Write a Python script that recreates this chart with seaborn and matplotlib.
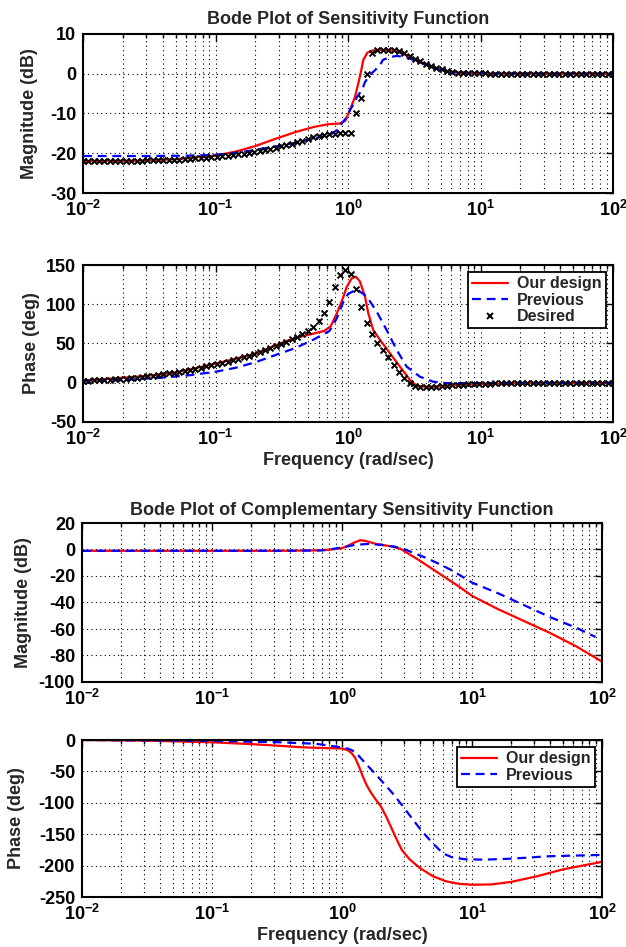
import numpy as np
import matplotlib
matplotlib.use("Agg")
import matplotlib.pyplot as plt
import seaborn as sns
from matplotlib.lines import Line2D
from matplotlib.ticker import LogLocator, NullFormatter, FixedLocator

# ---------------- data ----------------
# Sensitivity magnitude (dB) - "Our design"
s_mag_our_logf = [-2.0, -1.6, -1.3, -1.0, -0.85, -0.7, -0.55, -0.4, -0.26, -0.15, -0.06, -0.02,
                  0.015, 0.053, 0.09, 0.116, 0.146, 0.18, 0.22, 0.3, 0.36, 0.42, 0.5, 0.58,
                  0.66, 0.75, 0.85, 1.0, 2.0]
s_mag_our = [-22.0, -21.9, -21.5, -20.6, -19.6, -18.2, -16.4, -14.7, -13.4, -12.7, -12.5, -11.8,
             -9.1, -5.8, -0.7, 3.5, 5.3, 5.8, 6.0, 6.0, 5.7, 5.0, 3.6, 2.3,
             1.3, 0.6, 0.25, 0.05, 0.0]

# Sensitivity magnitude (dB) - "Previous"
s_mag_prev_logf = [-2.0, -1.5, -1.2, -1.0, -0.8, -0.6, -0.4, -0.25, -0.136, -0.075, -0.045, -0.008,
                   0.015, 0.053, 0.068, 0.106, 0.128, 0.166, 0.204, 0.242, 0.264, 0.317, 0.37,
                   0.45, 0.54, 0.67, 0.8, 0.98, 1.2, 2.0]
s_mag_prev = [-20.7, -20.7, -20.6, -20.4, -19.7, -18.6, -17.4, -16.2, -15.4, -14.0, -12.4, -10.9,
              -9.1, -7.1, -5.8, -4.1, -2.1, -0.3, 0.9, 2.2, 3.5, 4.2, 4.5,
              4.0, 3.0, 1.2, 0.4, 0.15, 0.05, 0.0]

# Sensitivity phase (deg) - "Our design"
s_ph_our_logf = [-2.0, -1.5, -1.3, -1.0, -0.7, -0.55, -0.45, -0.4, -0.3, -0.18, -0.13, -0.083,
                 -0.038, -0.01, 0.028, 0.06, 0.09, 0.128, 0.153, 0.191, 0.242, 0.317, 0.392,
                 0.468, 0.518, 0.6, 0.7, 0.85, 1.0, 1.3, 2.0]
s_ph_our = [2.5, 9.0, 13.0, 24.3, 37.0, 47.5, 54.0, 57.0, 61.0, 66.0, 72.0, 89.0,
            108.0, 122.0, 133.0, 135.0, 129.0, 110.0, 88.5, 67.0, 54.5, 37.5, 20.5,
            3.5, -4.0, -5.5, -4.5, -2.5, -1.5, -0.7, -0.3]

# Sensitivity phase (deg) - "Previous"
s_ph_prev_logf = [-2.0, -1.7, -1.4, -1.2, -1.0, -0.85, -0.7, -0.52, -0.4, -0.26, -0.14, -0.085,
                  -0.035, 0.0, 0.066, 0.141, 0.217, 0.292, 0.368, 0.443, 0.543, 0.644, 0.745,
                  1.0, 2.0]
s_ph_prev = [2.5, 3.5, 6.5, 9.5, 14.0, 19.0, 26.0, 37.0, 44.0, 55.0, 66.0, 82.0,
             103.0, 113.0, 119.0, 110.0, 90.5, 67.0, 41.7, 20.5, 7.7, 1.3, -0.5,
             -0.5, 0.0]

# "Desired" markers (100 log-spaced frequencies 1e-2 .. 1e2)
desired_f = np.logspace(-2, 2, 100)
desired_mag = [-22.0, -22.0, -22.0, -22.0, -22.0, -22.0, -22.0, -21.9, -21.9, -21.9,
               -21.9, -21.9, -21.8, -21.8, -21.8, -21.7, -21.7, -21.6, -21.6, -21.5,
               -21.4, -21.3, -21.2, -21.1, -21.0, -20.9, -20.8, -20.6, -20.5, -20.3,
               -20.1, -19.9, -19.7, -19.5, -19.2, -18.9, -18.6, -18.3, -18.0, -17.6,
               -17.2, -16.8, -16.4, -16.0, -15.7, -15.4, -15.2, -15.1, -15.0, -15.0,
               -15.0, -9.8, -6.2, 0.0, 5.1, 5.9, 6.0, 6.0, 5.9, 5.6,
               5.1, 4.5, 3.8, 3.1, 2.5, 2.0, 1.5, 1.1, 0.8, 0.5,
               0.3, 0.2, 0.1, 0.1, 0.1, 0.1, 0.0, 0.0, 0.0, 0.0,
               0.0, 0.0, 0.0, 0.0, 0.0, 0.0, 0.0, 0.0, 0.0, 0.0,
               0.0, 0.0, 0.0, 0.0, 0.0, 0.0, 0.0, 0.0, 0.0, 0.0]
desired_phase = [2.5, 2.7, 3.0, 3.3, 3.6, 4.0, 4.4, 4.9, 5.4, 6.0,
                 6.6, 7.3, 8.1, 9.0, 9.9, 10.9, 11.9, 13.0, 14.2, 15.4,
                 16.7, 18.0, 19.4, 20.8, 22.3, 23.8, 25.4, 27.0, 28.7, 30.5,
                 32.4, 34.4, 36.5, 39.0, 41.5, 44.0, 46.8, 49.6, 52.5, 55.5,
                 58.5, 61.8, 65.5, 71.0, 79.0, 89.0, 103.0, 121.6, 137.0, 143.6,
                 139.0, 120.0, 96.0, 76.5, 62.0, 51.0, 41.7, 32.4, 22.6, 14.0,
                 6.4, -0.8, -4.0, -5.0, -5.5, -5.5, -5.0, -4.5, -4.0, -3.5,
                 -3.0, -2.6, -2.2, -1.9, -1.6, -1.3, -1.1, -0.9, -0.7, -0.6,
                 -0.5, -0.4, -0.4, -0.4, -0.4, -0.4, -0.3, -0.3, -0.3, -0.3,
                 -0.3, -0.2, -0.2, -0.2, -0.2, -0.2, -0.1, -0.1, -0.1, -0.1]

# Complementary sensitivity magnitude (dB)
t_mag_our_logf = [-2.0, -1.0, -0.5, -0.2, -0.1, 0.0, 0.06, 0.1, 0.14, 0.18, 0.25, 0.32, 0.4,
                  0.45, 0.5, 0.6, 0.7, 0.8, 0.9, 1.0, 1.2, 1.4, 1.6, 1.8, 2.0]
t_mag_our = [-1.0, -1.0, -1.0, -0.7, -0.2, 1.0, 3.5, 5.5, 7.0, 6.5, 4.5, 3.3, 2.0,
             0.5, -2.5, -8.5, -15.0, -21.5, -28.0, -35.0, -45.0, -54.0, -63.0, -73.0, -84.6]
t_mag_prev_logf = [-2.0, -0.5, -0.15, 0.0, 0.1, 0.2, 0.3, 0.4, 0.47, 0.55, 0.65, 0.75, 0.85,
                   1.0, 1.2, 1.4, 1.6, 1.8, 1.95]
t_mag_prev = [-1.0, -1.0, -0.7, 1.5, 3.5, 4.2, 3.5, 2.2, 0.5, -2.5, -6.5, -11.0, -16.0,
              -25.0, -33.0, -42.0, -51.0, -59.0, -66.0]

# Complementary sensitivity phase (deg)
t_ph_our_logf = [-2.0, -1.5, -1.0, -0.7, -0.5, -0.3, -0.15, 0.0, 0.04, 0.07, 0.1, 0.13, 0.16,
                 0.19, 0.22, 0.26, 0.3, 0.34, 0.38, 0.42, 0.46, 0.52, 0.6, 0.7, 0.8, 0.9,
                 1.0, 1.15, 1.3, 1.5, 1.7, 1.85, 2.0]
t_ph_our = [0.0, -1.0, -3.7, -6.5, -9.0, -11.7, -12.8, -13.5, -16.0, -20.0, -28.0, -42.0, -58.0,
            -72.0, -83.0, -95.0, -106.0, -122.0, -140.0, -158.0, -175.0, -190.0, -204.0, -217.0,
            -225.0, -229.0, -230.5, -230.0, -226.0, -217.0, -206.0, -200.0, -194.0]
t_ph_prev_logf = [-2.0, -1.0, -0.5, -0.2, 0.0, 0.05, 0.1, 0.18, 0.3, 0.39, 0.47, 0.55, 0.61,
                  0.7, 0.78, 0.85, 0.95, 1.1, 1.3, 1.6, 2.0]
t_ph_prev = [0.0, -1.5, -3.5, -6.0, -12.0, -14.0, -18.6, -37.0, -64.0, -85.0, -106.0, -128.0,
             -144.0, -165.0, -181.0, -187.0, -190.0, -190.5, -189.0, -185.0, -183.0]

xtick_values = [1e-2, 1e-1, 1e0, 1e1, 1e2]
xtick_labels = [r"$\mathbf{10^{-2}}$", r"$\mathbf{10^{-1}}$", r"$\mathbf{10^{0}}$",
                r"$\mathbf{10^{1}}$", r"$\mathbf{10^{2}}$"]

# ---------------- style ----------------
sns.set_style("white")
plt.rcParams["font.family"] = ["Liberation Sans", "DejaVu Sans"]
plt.rcParams["font.weight"] = "bold"
plt.rcParams["axes.labelweight"] = "bold"
plt.rcParams["axes.titleweight"] = "bold"
plt.rcParams["mathtext.fontset"] = "custom"
plt.rcParams["mathtext.rm"] = "Liberation Sans:bold"
plt.rcParams["mathtext.bf"] = "Liberation Sans:bold"
plt.rcParams["mathtext.it"] = "Liberation Sans:bold"

FS = 13
RED = "#ff0000"
BLUE = "#0000ff"
DASH = (0, (4, 2.6))

fig = plt.figure(figsize=(6.26, 9.47), dpi=100)
W, H = 626.0, 947.0


def make_ax(left, top, right, bottom):
    return fig.add_axes([left / W, 1 - bottom / H, (right - left) / W, (bottom - top) / H])


ax1 = make_ax(83, 34, 613, 193)
ax2 = make_ax(83, 265, 613, 422)
ax3 = make_ax(82, 523, 602, 682)
ax4 = make_ax(82, 740, 602, 897)


def lin(ax, logf, vals, color, ls):
    sns.lineplot(x=np.power(10.0, logf), y=vals, ax=ax, color=color, linewidth=1.6,
                 linestyle=ls, sort=False, estimator=None)


def style(ax, ylim, yticks, ylabel, ylabel_x):
    ax.set_xscale("log")
    ax.set_xlim(1e-2, 1e2)
    ax.set_ylim(*ylim)
    ax.set_yticks(yticks)
    ax.set_yticklabels([str(v) for v in yticks], fontsize=FS, fontweight="bold")
    ax.xaxis.set_major_locator(FixedLocator(xtick_values))
    ax.set_xticklabels(xtick_labels, fontsize=FS)
    ax.xaxis.set_minor_locator(LogLocator(base=10, subs=np.arange(2, 10)))
    ax.xaxis.set_minor_formatter(NullFormatter())
    ax.grid(True, which="major", axis="both", color="k", linestyle=(0, (1, 3)), linewidth=0.8)
    ax.grid(True, which="minor", axis="x", color="k", linestyle=(0, (1, 3)), linewidth=0.8)
    ax.tick_params(which="both", direction="in", top=True, right=True, colors="k",
                   width=1.0, pad=5)
    ax.tick_params(which="major", length=5)
    ax.tick_params(which="minor", length=3)
    for s in ax.spines.values():
        s.set_visible(True)
        s.set_color("k")
        s.set_linewidth(1.5)
    ax.set_ylabel(ylabel, fontsize=FS, fontweight="bold")
    ax.yaxis.set_label_coords(ylabel_x, 0.5)
    ax.set_xlabel("")


def legend(ax, handles, labels):
    leg = ax.legend(handles, labels, loc="upper right", fontsize=11.5, frameon=True,
                    fancybox=False, borderaxespad=0.45, handlelength=2.2, labelspacing=0.1,
                    borderpad=0.25, handletextpad=0.6)
    leg.get_frame().set_edgecolor("k")
    leg.get_frame().set_linewidth(1.3)
    leg.get_frame().set_alpha(1)
    return leg


# Panel 1: sensitivity magnitude
lin(ax1, s_mag_our_logf, s_mag_our, RED, "-")
lin(ax1, s_mag_prev_logf, s_mag_prev, BLUE, DASH)
sns.scatterplot(x=desired_f, y=desired_mag, ax=ax1, marker="x", color="k", s=18,
                linewidth=1.4, zorder=3)
style(ax1, (-30, 10), [-30, -20, -10, 0, 10], "Magnitude (dB)", -0.085)
ax1.set_title("Bode Plot of Sensitivity Function", fontsize=FS, fontweight="bold", pad=7)

# Panel 2: sensitivity phase
lin(ax2, s_ph_our_logf, s_ph_our, RED, "-")
lin(ax2, s_ph_prev_logf, s_ph_prev, BLUE, DASH)
sns.scatterplot(x=desired_f, y=desired_phase, ax=ax2, marker="x", color="k", s=18,
                linewidth=1.4, zorder=3)
style(ax2, (-50, 150), [-50, 0, 50, 100, 150], "Phase (deg)", -0.081)
ax2.set_xlabel("Frequency (rad/sec)", fontsize=FS, fontweight="bold", labelpad=2)

h_our = Line2D([], [], color=RED, linewidth=1.6)
h_prev = Line2D([], [], color=BLUE, linewidth=1.6, linestyle=DASH)
h_des = Line2D([], [], color="k", marker="x", linestyle="none", markersize=4, markeredgewidth=1.4)
legend(ax2, [h_our, h_prev, h_des], ["Our design", "Previous", "Desired"])

# Panel 3: complementary sensitivity magnitude
lin(ax3, t_mag_our_logf, t_mag_our, RED, "-")
lin(ax3, t_mag_prev_logf, t_mag_prev, BLUE, DASH)
style(ax3, (-100, 20), [-100, -80, -60, -40, -20, 0, 20], "Magnitude (dB)", -0.096)
ax3.set_title("Bode Plot of Complementary Sensitivity Function", fontsize=FS,
              fontweight="bold", pad=6)

# Panel 4: complementary sensitivity phase
lin(ax4, t_ph_our_logf, t_ph_our, RED, "-")
lin(ax4, t_ph_prev_logf, t_ph_prev, BLUE, DASH)
style(ax4, (-250, 0), [-250, -200, -150, -100, -50, 0], "Phase (deg)", -0.11)
ax4.set_xlabel("Frequency (rad/sec)", fontsize=FS, fontweight="bold", labelpad=2)
legend(ax4, [h_our, h_prev], ["Our design", "Previous"])

fig.savefig("out.png", dpi=100)
